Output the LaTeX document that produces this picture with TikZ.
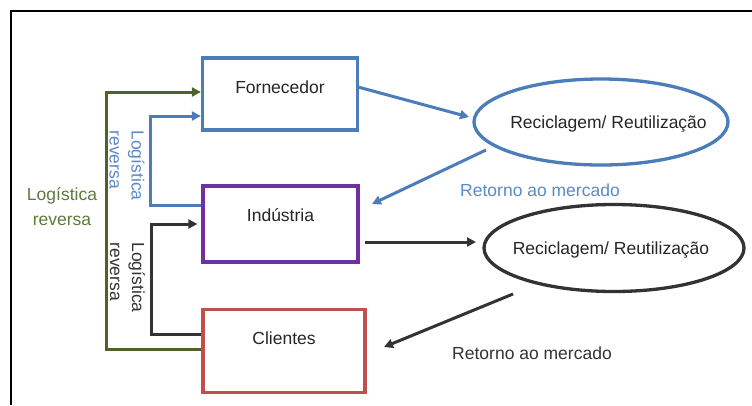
\documentclass[tikz,border=0pt]{standalone}
\usepackage{fontspec}
\setmainfont{Liberation Sans}
\usetikzlibrary{arrows.meta,shapes.geometric}
\definecolor{bline}{HTML}{4A7DBA}
\definecolor{btext}{HTML}{5B8AC6}
\definecolor{purp}{HTML}{7030A0}
\definecolor{redb}{HTML}{C0504D}
\definecolor{gline}{HTML}{4F6228}
\definecolor{gtext}{HTML}{5E7B3B}
\definecolor{dk}{HTML}{333333}
\begin{document}
\begin{tikzpicture}[x=1pt,y=-1pt,
  font=\fontsize{17.5}{22}\selectfont,
  box/.style={draw,line width=3.3pt,rectangle,inner sep=3pt,text height=12pt,text=black!85},
  ell/.style={draw,line width=3.3pt,ellipse,inner sep=0pt,text=black!85,text height=12pt,text depth=0pt},
  conn/.style={line width=3pt,-{Triangle[length=9pt,width=9pt]}},
  rot/.style={rotate=-90,anchor=west,align=left,font=\fontsize{17.5}{22}\selectfont}]
\useasboundingbox (0,0) rectangle (752,405);
\fill[white] (0,0) rectangle (752,405);
\draw[line width=2.2pt,black] (11,405) -- (11,11) -- (752,11);
% boxes
\node[box,draw=bline,minimum width=155pt,minimum height=72pt,text depth=14pt] (forn) at (280,94) {Fornecedor};
\node[box,draw=purp,minimum width=155pt,minimum height=76pt,text depth=18pt] (ind) at (280.5,224) {Indústria};
\node[box,draw=redb,minimum width=162pt,minimum height=83pt,text depth=26pt] (cli) at (284,351) {Clientes};
\node[ell,draw=bline,minimum width=254pt,minimum height=86pt] (e1) at (601,122) {\makebox[0pt]{\hspace*{15pt}Reciclagem/ Reutilização}};
\node[ell,draw=dk,minimum width=260pt,minimum height=87pt] (e2) at (614,248) {\makebox[0pt]{Reciclagem/ Reutilização\hspace*{6pt}}};
% free ends
\coordinate (a1s) at (358,87);
\coordinate (a1e) at (469,117);
\coordinate (a2s) at (486,150);
\coordinate (a2e) at (372,204);
\coordinate (a3s) at (365,242);
\coordinate (a3e) at (476,242);
\coordinate (a4s) at (513,294);
\coordinate (a4e) at (384,347);
\coordinate (gx) at (106,0);
\coordinate (bx) at (150,0);
\coordinate (kx) at (151,0);
% right side arrows
\draw[conn,bline] (a1s) -- (a1e);
\draw[conn,bline] (a2s) -- (a2e);
\draw[conn,dk] (a3s) -- (a3e);
\draw[conn,dk] (a4s) -- (a4e);
\node[text=btext] (rt1) at (540,190) {Retorno ao mercado};
\node[text=dk] (rt2) at (532,353) {Retorno ao mercado};
% left connectors
\draw[conn,gline] ([yshift=2pt]cli.west) -- ([yshift=2pt]cli.west -| gx) -- ([yshift=2pt]forn.west -| gx) -- ([yshift=2pt]forn.west);
\draw[conn,bline] ([yshift=19pt]ind.west) -- ([yshift=19pt]ind.west -| bx) -- ([yshift=-22pt]forn.west -| bx) -- ([yshift=-22pt]forn.west);
\draw[conn,dk] ([yshift=17pt]cli.west) -- ([yshift=17pt]cli.west -| kx) -- (ind.west -| kx) -- ([xshift=-4pt]ind.west);
% labels
\node[rot,text=btext] (lb) at (127,127) {Logística\\reversa};
\node[rot,text=dk] (lk) at (127.5,239) {Logística\\reversa};
\node[align=center,text=gtext,font=\fontsize{17.5}{25}\selectfont] (lg) at (62,207) {Logística\\reversa};
\end{tikzpicture}
\end{document}
